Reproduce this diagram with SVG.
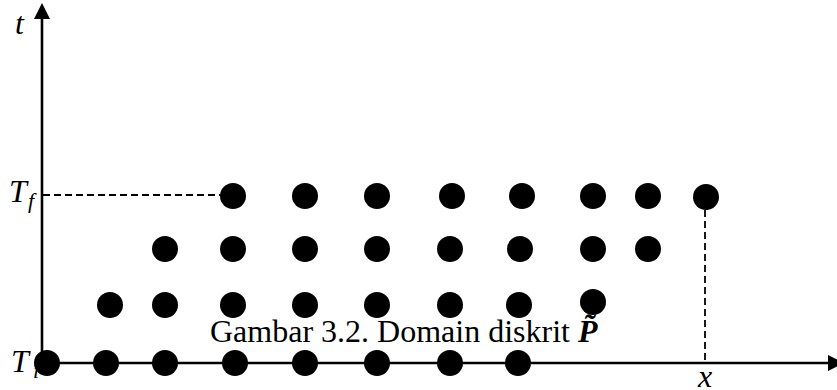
<svg xmlns="http://www.w3.org/2000/svg" width="837" height="390" viewBox="0 0 837 390">
  <style>
    .axis { stroke: #000; stroke-width: 2.6; fill: none; }
    .guide { stroke: #000; stroke-width: 1.8; stroke-dasharray: 7 4; fill: none; }
    .pt { fill: #000; }
    .lbl { font-family: "Liberation Serif", "Times New Roman", serif; font-style: italic; fill: #000; }
    .cap { font-family: "Liberation Serif", "Times New Roman", serif; font-size: 32px; fill: #000; }
  </style>
  <rect width="837" height="390" fill="#fff"/>

  <!-- axes -->
  <g id="axes">
    <line class="axis" x1="42" y1="14" x2="42" y2="363"/>
    <polygon points="42,3 34,19 50,19" fill="#000"/>
    <line class="axis" x1="42" y1="363" x2="830" y2="363"/>
    <polygon points="844,363 828,355 828,371" fill="#000"/>
  </g>

  <!-- guide lines to T_f and x -->
  <g id="connectors">
    <line class="guide" x1="43" y1="195" x2="222" y2="195"/>
    <line class="guide" x1="705" y1="210" x2="705" y2="362"/>
  </g>

  <!-- axis labels -->
  <g id="labels">
    <text class="lbl" x="15" y="34" font-size="32">t</text>
    <text class="lbl" x="9" y="202" font-size="32">T</text>
    <text class="lbl" x="28" y="208" font-size="22">f</text>
    <text class="lbl" x="11" y="372" font-size="32">T</text>
    <text class="lbl" x="33" y="378" font-size="22">i</text>
    <text class="lbl" x="698" y="387" font-size="32">x</text>
  </g>

  <!-- grid points, top row (t = T_f) -->
  <g id="row1">
    <circle class="pt" cx="233" cy="196" r="13"/>
    <circle class="pt" cx="305" cy="196" r="13"/>
    <circle class="pt" cx="377" cy="196" r="13"/>
    <circle class="pt" cx="452" cy="196" r="13"/>
    <circle class="pt" cx="522" cy="196" r="13"/>
    <circle class="pt" cx="593" cy="196" r="13"/>
    <circle class="pt" cx="648" cy="196" r="13"/>
    <circle class="pt" cx="706" cy="197" r="13"/>
  </g>

  <g id="row2">
    <circle class="pt" cx="165" cy="249" r="13"/>
    <circle class="pt" cx="233" cy="249" r="13"/>
    <circle class="pt" cx="305" cy="249" r="13"/>
    <circle class="pt" cx="377" cy="249" r="13"/>
    <circle class="pt" cx="450" cy="249" r="13"/>
    <circle class="pt" cx="520" cy="249" r="13"/>
    <circle class="pt" cx="593" cy="249" r="13"/>
    <circle class="pt" cx="648" cy="249" r="13"/>
  </g>

  <!-- caption sits between the lower rows -->
  <g id="caption">
    <text class="cap" x="210" y="342">Gambar 3.2. Domain diskrit <tspan font-style="italic" font-weight="bold">P̃</tspan></text>
  </g>

  <g id="row3">
    <circle class="pt" cx="110" cy="305" r="13"/>
    <circle class="pt" cx="165" cy="305" r="13"/>
    <circle class="pt" cx="233" cy="305" r="13"/>
    <circle class="pt" cx="305" cy="305" r="13"/>
    <circle class="pt" cx="377" cy="305" r="13"/>
    <circle class="pt" cx="450" cy="305" r="13"/>
    <circle class="pt" cx="519" cy="305" r="13"/>
    <circle class="pt" cx="593" cy="302" r="13"/>
  </g>

  <!-- bottom row (t = T_i) -->
  <g id="row4">
    <circle class="pt" cx="47" cy="363" r="13"/>
    <circle class="pt" cx="106" cy="363" r="13"/>
    <circle class="pt" cx="165" cy="363" r="13"/>
    <circle class="pt" cx="235" cy="363" r="13"/>
    <circle class="pt" cx="305" cy="363" r="13"/>
    <circle class="pt" cx="377" cy="363" r="13"/>
    <circle class="pt" cx="450" cy="363" r="13"/>
    <circle class="pt" cx="518" cy="363" r="13"/>
  </g>
</svg>
